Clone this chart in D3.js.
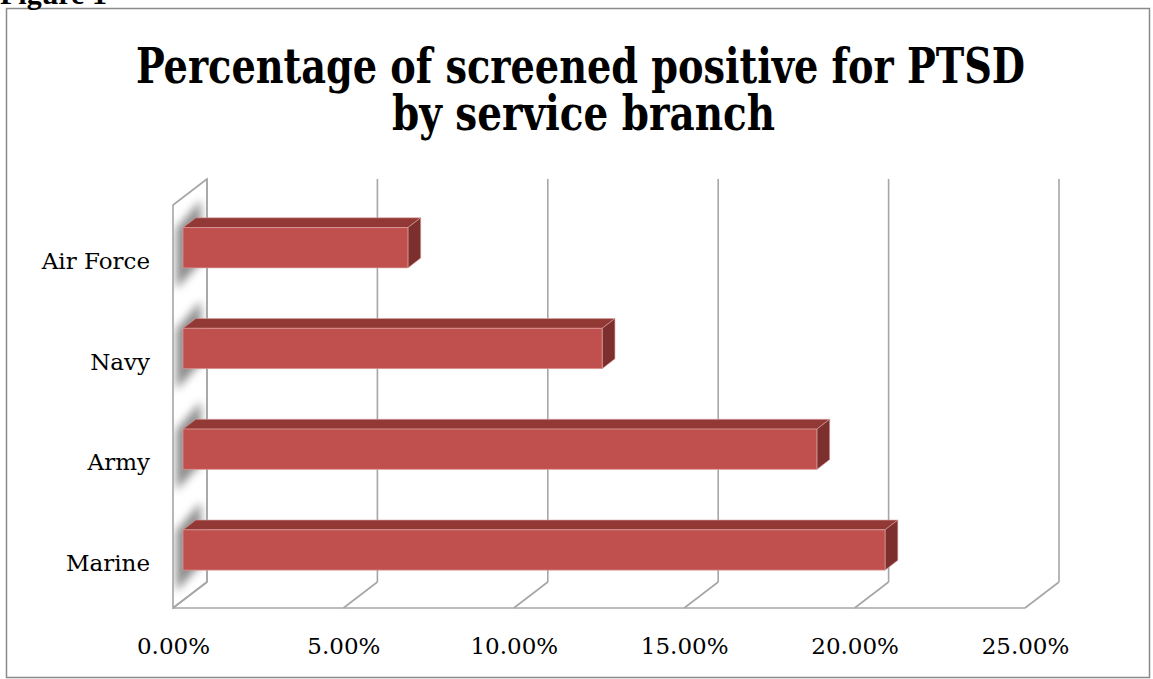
<!DOCTYPE html>
<html>
<head>
<meta charset="utf-8">
<script src="https://cdn.jsdelivr.net/npm/d3@7"></script>
<style>
  html, body { margin: 0; padding: 0; background: #fff; }
  svg { display: block; }
</style>
</head>
<body>
<svg id="chart" width="1153" height="679"></svg>
<script>
// ---- data ----
const categories = ["Air Force", "Navy", "Army", "Marine"];
const values = [6.6, 12.3, 18.6, 20.6];          // percent
const tickValues = [0, 5, 10, 15, 20, 25];
const tickLabels = ["0.00%", "5.00%", "10.00%", "15.00%", "20.00%", "25.00%"];
const titleLines = ["Percentage of screened positive for PTSD", "by service branch"];

// ---- layout ----
const svg = d3.select("#chart");
const DX = -34, DY = 26;          // full depth offset (back -> front)
const T_FRONT = 0.706, T_BACK = 0.33; // bar depth range
const xs = d3.scaleLinear().domain([0, 25]).range([207, 1059]);
const ys = d3.scaleBand().domain(categories).range([179, 582]).paddingInner(0.6).paddingOuter(0.3);
const proj = (v, y, t) => [xs(v) + DX * t, y + DY * t];
const serif = "'DejaVu Serif', 'Liberation Serif', serif";

// chart frame
svg.append("rect").attr("x", 6.5).attr("y", 8.5).attr("width", 1143).attr("height", 669)
  .attr("fill", "#fff").attr("stroke", "#8a8a8a").attr("stroke-width", 1.5);

// "Figure 1" caption (cut off at top, as in the source)
svg.append("text").attr("x", 0).attr("y", 4).text("Figure 1")
  .attr("font-family", "'Liberation Serif', serif").attr("font-weight", "bold").attr("font-size", 30).attr("fill", "#000");

// title
const title = svg.append("g");
const titleY = [83, 130], titleW = [889, 383], titleCx = [580.5, 583.5];
titleLines.forEach((s, i) => {
  title.append("text").attr("x", titleCx[i]).attr("y", titleY[i]).attr("text-anchor", "middle")
    .attr("font-family", serif).attr("font-weight", "bold").attr("font-size", 48)
    .style("font-stretch", "condensed")
    .attr("textLength", titleW[i]).attr("lengthAdjust", "spacingAndGlyphs")
    .attr("fill", "#000").text(s);
});

const defs = svg.append("defs");
defs.append("filter").attr("id", "blur").attr("x", "-50%").attr("y", "-50%").attr("width", "200%").attr("height", "200%")
  .append("feGaussianBlur").attr("stdDeviation", 4.5);

const y0 = ys.range()[0], y1 = ys.range()[1];
const grid = "#a6a6a6";
const poly = pts => pts.map(p => p.join(",")).join(" ");

// left wall
const wallPts = [proj(0, y0, 0), proj(0, y0, 1), proj(0, y1, 1), proj(0, y1, 0)];
defs.append("clipPath").attr("id", "wallClip").append("polygon").attr("points", poly(wallPts));
svg.append("polygon").attr("points", poly(wallPts)).attr("fill", "#fff");

// shadows on wall
const shadowG = svg.append("g").attr("clip-path", "url(#wallClip)");
categories.forEach((c) => {
  const top = ys(c), bot = ys(c) + ys.bandwidth();
  const pts = [proj(0, top - 14, T_BACK - 0.15), proj(0, top - 4, T_FRONT + 0.2),
               proj(0, bot + 16, T_FRONT + 0.2), proj(0, bot + 8, T_BACK - 0.15)];
  shadowG.append("polygon").attr("points", poly(pts))
    .attr("fill", "#7a7a7a").attr("opacity", 0.85).attr("filter", "url(#blur)");
});
svg.append("polygon").attr("points", poly(wallPts))
  .attr("fill", "none").attr("stroke", grid).attr("stroke-width", 1.6);

// back gridlines
svg.append("g").selectAll("line").data(tickValues).join("line")
  .attr("x1", d => xs(d)).attr("x2", d => xs(d)).attr("y1", y0).attr("y2", y1)
  .attr("stroke", grid).attr("stroke-width", 1.6);

// floor: diagonals + front edge
svg.append("g").selectAll("line").data(tickValues).join("line")
  .attr("x1", d => proj(d, y1, 0)[0]).attr("y1", d => proj(d, y1, 0)[1])
  .attr("x2", d => proj(d, y1, 1)[0]).attr("y2", d => proj(d, y1, 1)[1])
  .attr("stroke", grid).attr("stroke-width", 1.6);
svg.append("line").attr("x1", proj(0, y1, 1)[0]).attr("y1", proj(0, y1, 1)[1])
  .attr("x2", proj(25, y1, 1)[0]).attr("y2", proj(25, y1, 1)[1])
  .attr("stroke", grid).attr("stroke-width", 1.6);

// bars
const barG = svg.append("g");
categories.forEach((c, i) => {
  const v = values[i];
  const top = ys(c), bot = ys(c) + ys.bandwidth();
  const ftl = proj(0, top, T_FRONT), ftr = proj(v, top, T_FRONT), fbr = proj(v, bot, T_FRONT), fbl = proj(0, bot, T_FRONT);
  const btl = proj(0, top, T_BACK), btr = proj(v, top, T_BACK), bbr = proj(v, bot, T_BACK);
  barG.append("polygon").attr("points", poly([ftl, ftr, btr, btl]))
    .attr("fill", "#923936").attr("stroke", "#d9a3a2").attr("stroke-width", 0.6).attr("stroke-linejoin", "round");
  barG.append("polygon").attr("points", poly([ftr, btr, bbr, fbr]))
    .attr("fill", "#7d2f2d").attr("stroke", "#d9a3a2").attr("stroke-width", 0.6).attr("stroke-linejoin", "round");
  barG.append("polygon").attr("points", poly([ftl, ftr, fbr, fbl]))
    .attr("fill", "#c0504d").attr("stroke", "#e0a9a8").attr("stroke-width", 0.6);
});

// category labels (front plane)
svg.append("g").selectAll("text").data(categories).join("text")
  .attr("x", xs(0) + DX - 23)
  .attr("y", d => ys(d) + DY + ys.bandwidth() / 2 + 13.5)
  .attr("text-anchor", "end")
  .attr("font-family", serif).attr("font-size", 23).attr("fill", "#000")
  .text(d => d);

// x axis labels at front floor
const xf = d3.scaleLinear().domain([0, 25]).range([xs(0) + DX, xs(25) + DX]);
const axis = d3.axisBottom(xf).tickValues(tickValues).tickSize(0).tickPadding(0)
  .tickFormat((d, i) => tickLabels[i]);
const ax = svg.append("g").attr("transform", `translate(0, ${y1 + DY})`).call(axis);
ax.select(".domain").remove();
ax.selectAll("text").attr("font-family", serif).attr("font-size", 23).attr("fill", "#000")
  .attr("dy", null).attr("y", 46);
</script>
</body>
</html>
